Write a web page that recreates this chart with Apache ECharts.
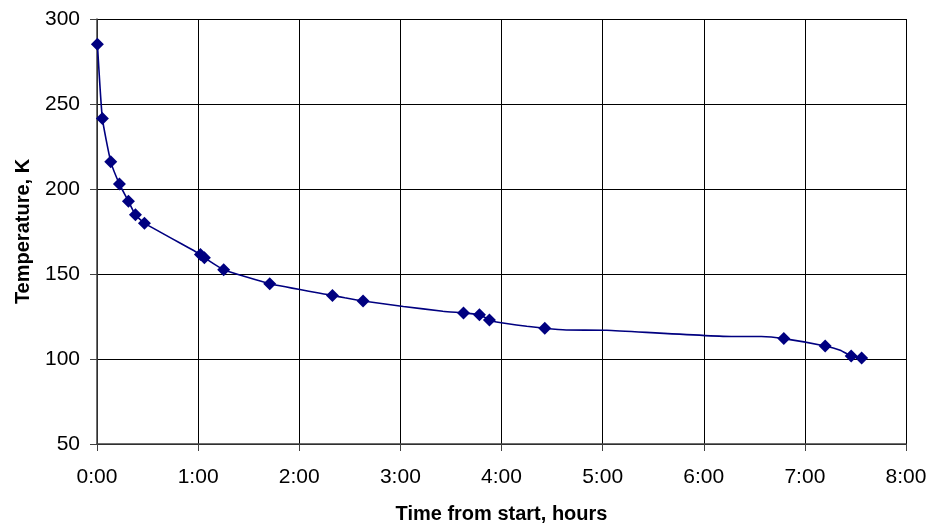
<!DOCTYPE html>
<html>
<head>
<meta charset="utf-8">
<script src="https://cdn.jsdelivr.net/npm/echarts@6/dist/echarts.min.js"></script>
<style>
  html, body { margin: 0; padding: 0; background: #fff; }
  #chart { width: 929px; height: 525px; }
</style>
</head>
<body>
<div id="chart"></div>
<script>
// measured points (time in hours, temperature in K)
const markerHours = [0.004, 0.053, 0.136, 0.222, 0.311, 0.380, 0.469, 1.023, 1.062, 1.253,
  1.708, 2.328, 2.631, 3.624, 3.782, 3.881, 4.428, 6.792, 7.201, 7.458, 7.561]
const markerTemps = [285.2, 241.5, 216.1, 202.9, 192.8, 184.8, 179.9, 161.5, 159.6, 152.5,
  144.3, 137.4, 134.1, 127.1, 126.1, 123.0, 118.1, 112.0, 107.7, 101.8, 100.6]

// extra vertices of the trace between markers (no symbol)
const traceHours = [2.45, 3.03, 3.42, 3.95, 4.25, 4.64, 5.04, 6.29, 6.57, 7.35]
const traceTemps = [136.0, 130.9, 128.1, 121.8, 119.3, 117.1, 116.9, 113.2, 113.2, 105.2]

const xTicks = ['0:00', '1:00', '2:00', '3:00', '4:00', '5:00', '6:00', '7:00', '8:00']

const markers = markerHours.map((h, i) => [h, markerTemps[i]])
const trace = markers.concat(traceHours.map((h, i) => [h, traceTemps[i]]))
  .sort((a, b) => a[0] - b[0])

const chart = echarts.init(document.getElementById('chart'))
const font = 'Liberation Sans, Arial, sans-serif'
const navy = '#000080'

chart.setOption({
  animation: false,
  grid: { left: 97, right: 23, top: 19, bottom: 81, outerBoundsMode: 'none', containLabel: false },
  xAxis: {
    type: 'value', min: 0, max: 8, interval: 1,
    name: 'Time from start, hours', nameLocation: 'middle', nameGap: 60,
    nameTextStyle: { fontFamily: font, fontWeight: 'bold', fontSize: 20, color: '#000' },
    axisLine: { lineStyle: { color: '#404040', width: 1.5 } },
    axisTick: { show: true, length: 7, lineStyle: { color: '#404040' } },
    axisLabel: { fontFamily: font, fontSize: 21, color: '#000', margin: 23,
      formatter: v => xTicks[Math.round(v)] },
    splitLine: { show: true, lineStyle: { color: '#000', width: 1 } }
  },
  yAxis: {
    type: 'value', min: 50, max: 300, interval: 50,
    name: 'Temperature, K', nameLocation: 'middle', nameGap: 64, nameRotate: 90,
    nameTextStyle: { fontFamily: font, fontWeight: 'bold', fontSize: 20, color: '#000' },
    axisLine: { show: true, lineStyle: { color: '#404040', width: 1.5 } },
    axisTick: { show: true, length: 7, lineStyle: { color: '#404040' } },
    axisLabel: { fontFamily: font, fontSize: 21, color: '#000', margin: 17 },
    splitLine: { show: true, lineStyle: { color: '#000', width: 1 } }
  },
  series: [
    {
      type: 'line', data: trace, smooth: 0.15, showSymbol: false, symbol: 'none',
      lineStyle: { color: navy, width: 1.6 }
    },
    {
      type: 'scatter', data: markers, symbol: 'diamond', symbolSize: 13,
      itemStyle: { color: navy, opacity: 1 }
    }
  ]
})
</script>
</body>
</html>
